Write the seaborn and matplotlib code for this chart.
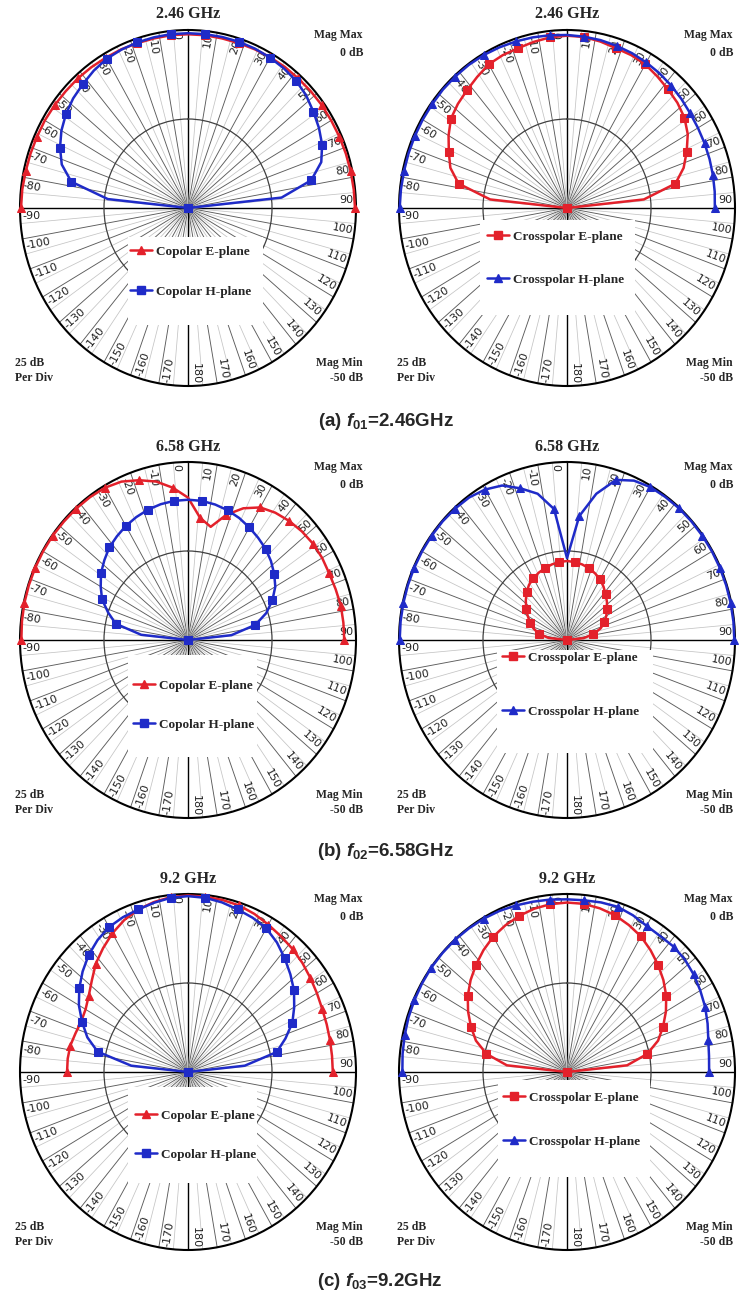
import numpy as np
import matplotlib
matplotlib.use("Agg")
import matplotlib.pyplot as plt
from matplotlib.patches import Rectangle
from matplotlib.lines import Line2D
from matplotlib.font_manager import FontProperties
import seaborn as sns

sns.set_style("white")
plt.rcParams["font.family"] = ["DejaVu Sans"]
plt.rcParams["mathtext.fontset"] = "custom"
plt.rcParams["mathtext.rm"] = "Liberation Sans:bold"
plt.rcParams["mathtext.it"] = "Liberation Sans:italic:bold"
plt.rcParams["mathtext.bf"] = "Liberation Sans:bold"

# ---------------------------------------------------------------- data
# observation angle (deg), 6-degree sampling over the front half-space
theta_deg = list(range(-90, 91, 6))

# normalised patterns in dB (Mag Max 0 dB, Mag Min -50 dB)
co_e_246 = [-0.3, -0.4, -0.6, -0.7, -0.8, -0.8, -0.9, -1.0, -1.0, -1.1, -1.2,
            -1.2, -1.3, -1.3, -1.2, -1.2, -1.2, -1.3, -1.3, -1.2, -1.1, -1.0,
            -1.0, -0.9, -0.8, -0.8, -0.7, -0.6, -0.5, -0.4, -0.3]
co_h_246 = [-50, -26, -14.5, -10.5, -8.3, -6.5, -5.1, -4.0, -3.2, -2.3, -1.6,
            -1.3, -1.1, -1.0, -0.9, -0.9, -0.9, -0.9, -0.9, -1.0, -1.2, -1.5,
            -1.9, -2.7, -3.9, -5.0, -6.3, -8.3, -12.5, -22, -50]
x_e_246 = [-50, -27, -17, -13.5, -11.5, -9.3, -7.3, -6.3, -5.5, -4.5, -3.4,
           -3.0, -2.8, -2.3, -1.8, -1.6, -1.7, -2.2, -2.8, -3.0, -3.4, -4.3,
           -5.1, -5.8, -6.8, -8.5, -11, -13.5, -17, -27, -50]
x_h_246 = [-0.2, -0.3, -0.4, -0.4, -0.4, -0.4, -0.4, -0.3, -0.3, -0.3, -0.4,
           -0.6, -0.8, -1.0, -1.2, -1.4, -1.6, -1.8, -2.1, -2.4, -2.8, -3.2,
           -3.7, -4.2, -4.7, -5.0, -5.2, -5.4, -5.6, -5.8, -6.0]

co_e_658 = [-0.4, -0.3, -0.2, -0.2, -0.2, -0.2, -0.2, -0.3, -0.3, -0.4, -0.6,
            -1.3, -2.8, -4.5, -7.0, -10, -15.5, -17.5, -13, -9.5, -7.0, -5.8,
            -5.0, -4.4, -4.0, -3.9, -4.0, -3.8, -3.5, -3.5, -3.5]
co_h_658 = [-50, -36, -28, -25, -22, -20, -18, -16.5, -15, -14, -13, -12.2,
            -11.5, -11, -10.7, -10.6, -10.7, -11.1, -11.7, -12.5, -13.5, -14.5,
            -15.5, -16.8, -18.3, -20, -22.5, -25.5, -29.5, -37, -50]
x_e_658 = [-50, -44.5, -41.5, -39.5, -38, -36.5, -35, -33.5, -32, -30.8, -30,
           -29.3, -28.8, -28.3, -28, -27.8, -28, -28.3, -28.8, -29.5, -30.3,
           -31.5, -32.8, -34, -35.3, -36.5, -37.8, -39.5, -42, -45, -50]
x_h_658 = [-0.2, -0.2, -0.2, -0.2, -0.2, -0.2, -0.2, -0.2, -0.3, -0.5, -1.2,
           -2.5, -5.2, -8.0, -13, -27, -15, -8.0, -2.7, -1.0, -0.4, -0.3,
           -0.2, -0.2, -0.2, -0.2, -0.2, -0.2, -0.2, -0.2, -0.2]

co_e_920 = [-14, -14, -14.2, -14.8, -15.2, -14.8, -13.5, -11.5, -9.0, -7.0,
            -5.0, -3.3, -2.0, -1.2, -0.6, -0.4, -0.5, -0.6, -0.8, -1.4, -2.2,
            -2.9, -3.5, -4.2, -5.0, -5.7, -6.3, -6.6, -6.8, -6.9, -6.9]
co_h_920 = [-50, -33, -22.5, -18.5, -15.5, -12.5, -10, -7.8, -5.8, -4.2, -3.0,
            -2.4, -2.0, -1.4, -0.8, -0.6, -0.8, -1.3, -2.0, -2.6, -3.4, -5.0,
            -7.0, -9.0, -11, -13.5, -16, -19.5, -23, -33, -50]
x_e_920 = [-50, -32, -25.5, -21.5, -18.7, -16, -13.5, -11.4, -9.5, -7.7, -6.1,
           -4.9, -3.9, -3.1, -2.6, -2.4, -2.5, -3.0, -3.7, -4.8, -6.0, -7.7,
           -9.5, -11.4, -13.5, -16, -18.7, -21.5, -25.6, -32, -50]
x_h_920 = [-1.0, -0.8, -0.6, -0.4, -0.3, -0.2, -0.1, -0.1, -0.1, -0.2, -0.3,
           -0.5, -0.8, -1.1, -1.3, -1.5, -1.5, -1.3, -1.2, -1.8, -2.6, -2.8,
           -2.6, -2.8, -3.4, -4.2, -5.0, -6.0, -7.0, -7.5, -7.7]

freq_titles = ["2.46 GHz", "6.58 GHz", "9.2 GHz"]
caption_tags = ["(a)", "(b)", "(c)"]
caption_subs = ["01", "02", "03"]
caption_freqs = ["2.46GHz", "6.58GHz", "9.2GHz"]
co_labels = ["Copolar E-plane", "Copolar H-plane"]
x_labels = ["Crosspolar E-plane", "Crosspolar H-plane"]
angle_ticks = list(range(-170, 181, 10))

RED = "#e3212b"
BLUE = "#1f2bc8"

# ---------------------------------------------------------------- layout (pixels)
W, H = 741, 1290
fig = plt.figure(figsize=(W / 100, H / 100), dpi=100)
fig.patch.set_facecolor("white")

RX, RY = 168, 178
col_cx = [188, 567]
row_cy = [208, 640, 1072]
title_y = [14, 447, 879]
caption_y = [421, 852, 1281]
caption_x = [386, 385, 380]
corner_left = [15, 397]
corner_right = [363, 733]

# legend anchor (handle x, first-row y, row pitch) and white legend field, per panel
legend_anchor = {
    (0, 0): (130, 253, 42), (0, 1): (487, 238, 45),
    (1, 0): (133, 687, 41), (1, 1): (502, 659, 56),
    (2, 0): (135, 1117, 41), (2, 1): (503, 1099, 46),
}
legend_area = {
    (0, 0): (128, 263, 237, 325), (0, 1): (480, 635, 220, 315),
    (1, 0): (128, 257, 655, 757), (1, 1): (497, 653, 650, 753),
    (2, 0): (128, 257, 1087, 1183), (2, 1): (498, 650, 1080, 1177),
}


def fx(x):
    return x / W


def fy(y):
    return 1 - y / H


serif_bold = dict(family="Liberation Serif", weight="bold")
legend_font = FontProperties(family="Liberation Serif", weight="bold", size=9.5)


def draw_panel(row, col, curves, labels):
    cx, cy = col_cx[col], row_cy[row]
    ax = fig.add_axes([fx(cx - RX), fy(cy + RY), 2 * RX / W, 2 * RY / H],
                      projection="polar")
    ax.set_aspect("auto")
    ax.set_theta_zero_location("N")
    ax.set_theta_direction(-1)
    ax.set_facecolor("white")

    th = np.deg2rad(theta_deg)
    handles = []
    for vals, color, marker in curves:
        sns.lineplot(x=th, y=vals, ax=ax, color=color, lw=1.8, marker=marker,
                     markersize=5.5, markevery=2, markeredgecolor=color,
                     markerfacecolor=color, sort=False, estimator=None,
                     legend=False, clip_on=False, zorder=3)
        handles.append(Line2D([], [], color=color, lw=1.8, marker=marker,
                              markersize=5.5, markeredgecolor=color,
                              markerfacecolor=color))

    ax.set_xlim(0, 2 * np.pi)
    ax.set_ylim(-50, 0)

    # spokes every 5 degrees, one -25 dB ring
    ax.set_xticks(np.deg2rad(np.arange(0, 360, 5)))
    ax.set_xticklabels([])
    ax.set_yticks([-25])
    ax.set_yticklabels([])
    ax.tick_params(length=0, pad=0)
    ax.grid(True)
    for i, gl in enumerate(ax.xaxis.get_gridlines()):
        a = 5 * i
        if a % 90 == 0:
            gl.set(color="black", lw=1.0, alpha=1, linestyle="-")
        elif a % 10 == 0:
            gl.set(color="#5c5c5c", lw=0.65, alpha=1, linestyle="-")
        else:
            gl.set(color="#c4c4c4", lw=0.55, alpha=1, linestyle="-")
    for gl in ax.yaxis.get_gridlines():
        gl.set(color="#404040", lw=0.9, alpha=1, linestyle="-")
    ax.spines["polar"].set(color="black", lw=1.5)

    # angle labels along the spokes, just inside the rim
    for a in angle_ticks:
        ar = np.deg2rad(a)
        phi = np.degrees(np.arctan2(RY * np.cos(ar), RX * np.sin(ar)))
        if a >= 0:
            rot, ha = phi, "right"
        else:
            rot, ha = phi + 180, "left"
        ax.text(np.deg2rad(a - 2.6), -0.6, str(a), rotation=rot,
                rotation_mode="anchor", ha=ha, va="center", fontsize=8,
                family="DejaVu Sans", color="#222222", zorder=1.8)

    # white legend field
    x0, x1, y0, y1 = legend_area[(row, col)]
    ax.add_patch(Rectangle((fx(x0), fy(y1)), (x1 - x0) / W, (y1 - y0) / H,
                           transform=fig.transFigure, facecolor="white",
                           edgecolor="none", zorder=4, clip_on=False))
    hx, ly, dy = legend_anchor[(row, col)]
    leg = ax.legend(handles, labels, loc="upper left",
                    bbox_to_anchor=(fx(hx), fy(ly - 7.3)),
                    bbox_transform=fig.transFigure, frameon=False,
                    borderpad=0, borderaxespad=0, handlelength=1.7,
                    handletextpad=0.25, labelspacing=(dy - 14.6) / 13.2,
                    prop=legend_font)
    leg.set_zorder(6)

    # titles and corner annotations
    fig.text(fx(cx), fy(title_y[row]), freq_titles[row], ha="center",
             va="center", size=11.5, **serif_bold)
    xl, xr = corner_left[col], corner_right[col]
    fig.text(fx(xr), fy(cy - 173), "Mag Max", ha="right", va="center",
             size=8.5, **serif_bold)
    fig.text(fx(xr), fy(cy - 155), "0 dB", ha="right", va="center",
             size=8.5, **serif_bold)
    fig.text(fx(xl), fy(cy + 155), "25 dB", ha="left", va="center",
             size=8.5, **serif_bold)
    fig.text(fx(xl), fy(cy + 170), "Per Div", ha="left", va="center",
             size=8.5, **serif_bold)
    fig.text(fx(xr), fy(cy + 155), "Mag Min", ha="right", va="center",
             size=8.5, **serif_bold)
    fig.text(fx(xr), fy(cy + 170), "-50 dB", ha="right", va="center",
             size=8.5, **serif_bold)
    return ax


panels = [
    ([(co_e_246, RED, "^"), (co_h_246, BLUE, "s")],
     [(x_e_246, RED, "s"), (x_h_246, BLUE, "^")]),
    ([(co_e_658, RED, "^"), (co_h_658, BLUE, "s")],
     [(x_e_658, RED, "s"), (x_h_658, BLUE, "^")]),
    ([(co_e_920, RED, "^"), (co_h_920, BLUE, "s")],
     [(x_e_920, RED, "s"), (x_h_920, BLUE, "^")]),
]

for r, (co_curves, x_curves) in enumerate(panels):
    draw_panel(r, 0, co_curves, co_labels)
    draw_panel(r, 1, x_curves, x_labels)
    fig.text(fx(caption_x[r]), fy(caption_y[r]),
             caption_tags[r] + r" $\mathit{f}_{\mathrm{" + caption_subs[r] + r"}}$="
             + caption_freqs[r],
             ha="center", va="center", size=13.5, family="Liberation Sans",
             weight="bold")

fig.savefig("out.png", dpi=100, facecolor="white")
